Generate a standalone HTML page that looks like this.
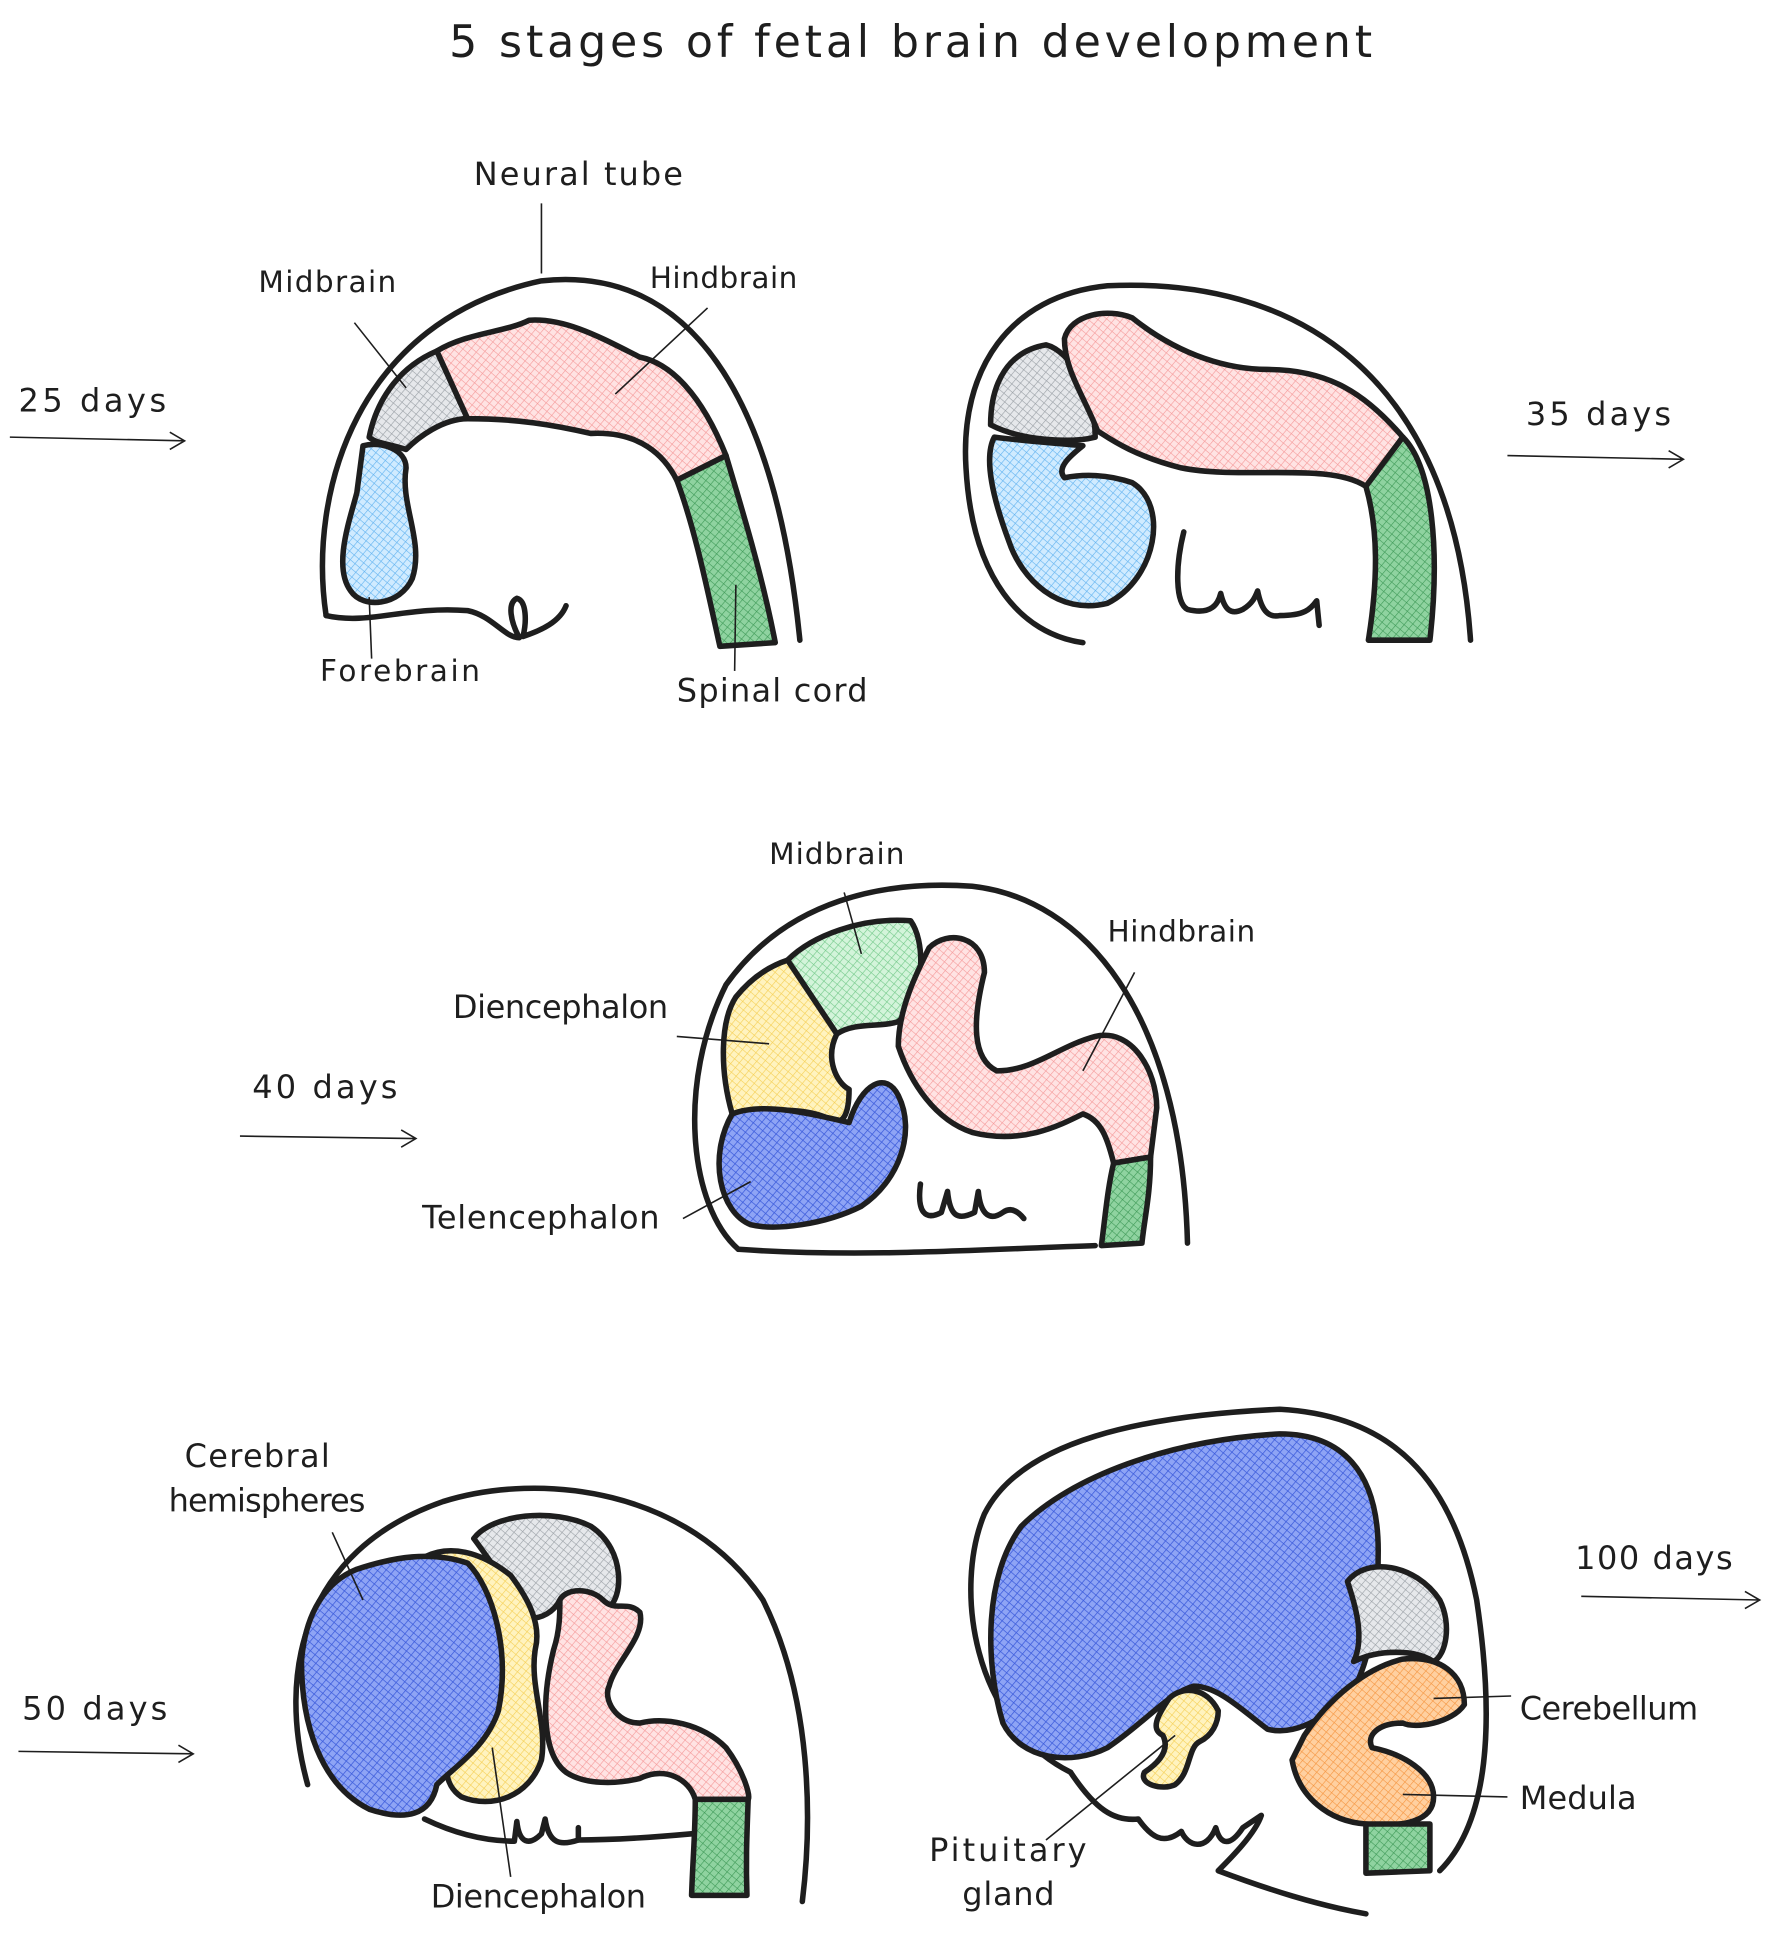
<!DOCTYPE html>
<html><head><meta charset="utf-8"><style>
html,body{margin:0;padding:0;background:#fff}
svg{display:block}
text{font-family:"DejaVu Sans","Liberation Sans",sans-serif;fill:#1e1e1e}
.o{fill:none;stroke:#1e1e1e;stroke-width:4.5;stroke-linecap:round;stroke-linejoin:round}
.s{stroke:#1e1e1e;stroke-width:4.5;stroke-linejoin:round}
.l{fill:none;stroke:#1e1e1e;stroke-width:1.3}
</style></head><body>
<svg width="1772" height="1935" viewBox="0 0 1440 1572" xmlns="http://www.w3.org/2000/svg">
<defs>
<pattern id="pk" width="5" height="5" patternUnits="userSpaceOnUse" patternTransform="rotate(40)"><rect width="5" height="5" fill="#ffe3e3"/><path d="M0 0H5M0 0V5" stroke="#f59a9a" stroke-width="1"/></pattern>
<pattern id="gy" width="5" height="5" patternUnits="userSpaceOnUse" patternTransform="rotate(40)"><rect width="5" height="5" fill="#e6e8eb"/><path d="M0 0H5M0 0V5" stroke="#9aa0a6" stroke-width="1"/></pattern>
<pattern id="lb" width="5" height="5" patternUnits="userSpaceOnUse" patternTransform="rotate(40)"><rect width="5" height="5" fill="#d0ebff"/><path d="M0 0H5M0 0V5" stroke="#62b3f0" stroke-width="1"/></pattern>
<pattern id="gr" width="5" height="5" patternUnits="userSpaceOnUse" patternTransform="rotate(40)"><rect width="5" height="5" fill="#8fd3a0"/><path d="M0 0H5M0 0V5" stroke="#3f9a58" stroke-width="1"/></pattern>
<pattern id="lg" width="5" height="5" patternUnits="userSpaceOnUse" patternTransform="rotate(40)"><rect width="5" height="5" fill="#d3f4da"/><path d="M0 0H5M0 0V5" stroke="#74c98a" stroke-width="1"/></pattern>
<pattern id="yl" width="5" height="5" patternUnits="userSpaceOnUse" patternTransform="rotate(40)"><rect width="5" height="5" fill="#fff3bf"/><path d="M0 0H5M0 0V5" stroke="#f5cf55" stroke-width="1"/></pattern>
<pattern id="bl" width="5" height="5" patternUnits="userSpaceOnUse" patternTransform="rotate(40)"><rect width="5" height="5" fill="#8ea4f5"/><path d="M0 0H5M0 0V5" stroke="#3b5bdb" stroke-width="1.2"/></pattern>
<pattern id="or" width="5" height="5" patternUnits="userSpaceOnUse" patternTransform="rotate(40)"><rect width="5" height="5" fill="#ffd0a0"/><path d="M0 0H5M0 0V5" stroke="#f59540" stroke-width="1"/></pattern>
</defs>

<text x="740" y="46" font-size="36" text-anchor="middle" textLength="750">5 stages of fetal brain development</text>

<!-- Stage 1 -->
<g>
<path class="o" d="M265,500 C250,400 290,260 440,228 C560,215 630,320 650,520"/>
<path class="o" d="M265,500 C300,508 330,492 380,496 C400,500 410,518 422,518 C415,505 412,490 420,486 C428,488 428,505 425,517 C440,512 455,505 460,492"/>
<path class="s" fill="url(#lb)" d="M295,362 C310,358 330,365 330,380 C325,410 345,440 335,470 C325,492 295,495 285,480 C270,460 285,420 290,400 Z"/>
<path class="s" fill="url(#gy)" d="M300,355 C305,330 320,300 355,285 L380,340 C360,340 340,355 330,365 C315,360 305,360 300,355 Z"/>
<path class="s" fill="url(#pk)" d="M355,285 C380,270 410,270 430,260 C460,258 490,275 520,290 C545,295 570,320 590,370 L550,390 C540,370 520,350 480,352 C450,345 420,340 380,340 Z"/>
<path class="s" fill="url(#gr)" d="M550,390 L590,370 C605,420 620,470 630,522 L585,525 C575,480 565,430 550,390 Z"/>
<path class="l" d="M440,165 L440,222 M288,262 L330,315 M575,250 L500,320 M300,485 L302,535 M598,475 L597,545"/>
<text x="385" y="150" font-size="26" textLength="170">Neural tube</text>
<text x="210" y="237" font-size="24" textLength="112">Midbrain</text>
<text x="528" y="234" font-size="24" textLength="120">Hindbrain</text>
<text x="260" y="553" font-size="24" textLength="130">Forebrain</text>
<text x="550" y="570" font-size="26" textLength="155">Spinal cord</text>
<text x="15" y="334" font-size="26" textLength="120">25 days</text>
<path class="l" d="M8,355 L150,358 M138,351 L150,358 L138,365" stroke-width="1.6"/>
</g>

<!-- Stage 2 -->
<g>
<path class="o" d="M880,522 C830,515 790,470 785,380 C780,300 820,240 900,232 C1050,225 1180,300 1195,520"/>
<path class="o" d="M962,432 C955,460 955,490 965,495 C985,500 990,490 992,482 C995,495 1000,500 1010,495 C1018,490 1020,485 1022,480 C1025,495 1030,502 1040,500 C1060,500 1065,495 1070,488 L1072,508"/>
<path class="s" fill="url(#gy)" d="M805,345 C805,310 820,285 850,280 C870,285 890,320 890,355 C870,360 830,358 805,345 Z"/>
<path class="s" fill="url(#pk)" d="M865,275 C870,255 900,250 920,258 C960,290 1000,300 1030,300 C1080,300 1110,320 1140,355 L1110,395 C1080,375 1010,390 960,380 C920,370 900,355 892,350 C880,320 865,300 865,275 Z"/>
<path class="s" fill="url(#lb)" d="M808,355 C830,358 860,360 880,362 C870,370 858,380 865,388 C880,385 900,385 920,392 C950,410 940,470 900,490 C860,500 830,470 820,440 C805,400 800,370 808,355 Z"/>
<path class="s" fill="url(#gr)" d="M1110,395 L1140,355 C1165,380 1170,450 1162,520 L1112,520 C1120,470 1120,430 1110,395 Z"/>
<text x="1240" y="345" font-size="26" textLength="118">35 days</text>
<path class="l" d="M1225,370 L1368,373 M1356,366 L1368,373 L1356,380" stroke-width="1.6"/>
</g>

<!-- Stage 3 -->
<g>
<path class="o" d="M600,1015 C560,980 550,880 590,800 C640,730 720,715 790,720 C880,730 960,820 965,1010"/>
<path class="o" d="M600,1015 C700,1022 800,1015 890,1012"/>
<path class="o" d="M748,962 C745,985 752,992 765,985 L770,968 C772,988 778,992 792,985 L795,968 C797,988 805,992 815,985 C822,980 828,985 832,990"/>
<path class="s" fill="url(#lg)" d="M640,780 C660,760 700,745 740,748 C752,765 750,800 740,820 L730,830 C715,835 695,830 680,840 Z"/>
<path class="s" fill="url(#yl)" d="M640,780 L680,840 C670,860 680,880 690,885 C690,905 685,915 675,910 C660,900 620,900 595,905 C585,870 585,830 598,810 C610,795 625,785 640,780 Z"/>
<path class="s" fill="url(#pk)" d="M755,770 C770,755 800,760 800,790 C790,830 790,860 810,870 C840,870 860,850 890,842 C920,835 940,870 940,900 L935,940 L905,945 C900,925 895,910 880,905 C860,915 830,930 790,920 C760,910 740,880 730,850 C730,820 745,790 755,770 Z"/>
<path class="s" fill="url(#bl)" d="M595,905 C620,895 660,905 690,912 C700,880 720,870 730,890 C745,920 730,960 700,980 C670,995 630,1000 610,995 C585,985 575,940 595,905 Z"/>
<path class="s" fill="url(#gr)" d="M905,945 L935,940 C935,970 930,990 928,1010 L895,1012 C898,990 900,965 905,945 Z"/>
<path class="l" d="M686,725 L700,775 M922,790 L880,870 M550,842 L625,848 M555,990 L610,960"/>
<text x="625" y="702" font-size="24" textLength="110">Midbrain</text>
<text x="900" y="765" font-size="24" textLength="120">Hindbrain</text>
<text x="368" y="827" font-size="26" textLength="175">Diencephalon</text>
<text x="343" y="998" font-size="26" textLength="193">Telencephalon</text>
<text x="205" y="892" font-size="26" textLength="118">40 days</text>
<path class="l" d="M195,923 L338,925 M326,918 L338,925 L326,932" stroke-width="1.6"/>
</g>

<!-- Stage 4 -->
<g>
<path class="o" d="M250,1450 C225,1360 245,1260 360,1220 C440,1195 560,1210 620,1300 C660,1380 660,1480 652,1545"/>
<path class="o" d="M345,1478 C370,1490 395,1496 418,1496 L420,1480 C422,1498 430,1500 440,1490 L443,1478 C446,1498 455,1500 470,1495 L470,1485"/>
<path class="o" d="M470,1495 C500,1495 540,1492 562,1490"/>
<path class="s" fill="url(#gy)" d="M385,1250 C400,1230 450,1225 480,1240 C510,1260 505,1300 495,1305 C480,1290 460,1290 455,1300 C450,1310 440,1315 430,1315 C420,1300 400,1270 385,1250 Z"/>
<path class="s" fill="url(#yl)" d="M345,1265 C365,1255 390,1260 415,1280 C430,1300 440,1320 435,1340 C430,1370 445,1400 440,1430 C430,1460 400,1470 375,1460 C360,1450 360,1430 370,1420 C400,1400 410,1340 395,1300 C385,1285 365,1270 345,1265 Z"/>
<path class="s" fill="url(#bl)" d="M290,1275 C320,1265 350,1260 380,1270 C400,1290 415,1340 405,1390 C395,1420 370,1435 355,1450 C350,1475 330,1480 300,1470 C260,1450 245,1400 245,1350 C248,1310 265,1285 290,1275 Z"/>
<path class="s" fill="url(#pk)" d="M455,1300 C460,1290 480,1290 490,1300 C500,1310 510,1300 520,1310 C525,1330 500,1350 495,1370 C490,1380 500,1400 520,1400 C540,1395 570,1400 590,1420 C605,1440 610,1460 608,1462 L565,1462 C560,1445 540,1435 520,1445 C500,1450 475,1450 460,1440 C440,1425 440,1380 450,1340 C455,1325 455,1310 455,1300 Z"/>
<path class="s" fill="url(#gr)" d="M565,1462 L608,1462 C607,1490 606,1510 607,1540 L562,1540 C563,1510 565,1490 565,1462 Z"/>
<path class="l" d="M270,1245 L295,1300 M400,1420 L415,1525"/>
<text x="150" y="1192" font-size="26" textLength="118">Cerebral</text>
<text x="137" y="1228" font-size="26" textLength="160">hemispheres</text>
<text x="350" y="1550" font-size="26" textLength="175">Diencephalon</text>
<text x="18" y="1397" font-size="26" textLength="118">50 days</text>
<path class="l" d="M15,1423 L157,1425 M145,1418 L157,1425 L145,1432" stroke-width="1.6"/>
</g>

<!-- Stage 5 -->
<g>
<path class="o" d="M870,1440 C790,1400 775,1290 800,1230 C830,1170 930,1150 1040,1145 C1130,1150 1180,1200 1200,1300 C1215,1400 1210,1480 1170,1520"/>
<path class="o" d="M870,1440 C890,1470 905,1480 925,1478 C935,1492 945,1500 960,1488 C965,1500 980,1505 988,1485 C992,1500 1000,1500 1010,1485 L1025,1475 C1020,1490 1000,1510 990,1520 C1030,1535 1070,1548 1110,1555"/>
<path class="s" fill="url(#bl)" d="M830,1240 C870,1200 950,1170 1040,1165 C1090,1165 1120,1195 1120,1260 C1120,1320 1110,1360 1095,1380 C1070,1400 1050,1410 1030,1405 C1010,1390 990,1370 970,1370 C950,1375 930,1400 900,1420 C870,1435 830,1430 815,1400 C800,1350 800,1280 830,1240 Z"/>
<path class="s" fill="url(#gy)" d="M1095,1285 C1110,1265 1150,1270 1170,1300 C1180,1320 1175,1345 1165,1350 C1150,1340 1120,1340 1100,1350 C1110,1330 1100,1300 1095,1285 Z"/>
<path class="s" fill="url(#or)" d="M1060,1410 C1080,1380 1110,1355 1140,1348 C1170,1345 1190,1360 1190,1385 C1180,1400 1150,1405 1140,1400 C1120,1400 1110,1410 1115,1420 C1140,1425 1165,1440 1165,1460 C1165,1480 1140,1485 1110,1482 C1080,1480 1055,1460 1050,1430 Z"/>
<path class="s" fill="url(#gr)" d="M1110,1482 L1162,1482 L1162,1520 L1110,1522 Z"/>
<path class="s" fill="url(#yl)" d="M950,1380 C960,1370 980,1370 990,1390 C990,1400 985,1410 975,1415 C965,1420 968,1440 955,1450 C945,1455 925,1450 930,1440 C945,1430 950,1420 945,1410 C935,1405 940,1395 950,1380 Z"/>
<path class="l" d="M1165,1380 L1228,1378 M1140,1458 L1225,1460 M850,1495 L955,1410"/>
<text x="1235" y="1397" font-size="26" textLength="145">Cerebellum</text>
<text x="1235" y="1470" font-size="26" textLength="95">Medula</text>
<text x="755" y="1512" font-size="26" textLength="128">Pituitary</text>
<text x="782" y="1548" font-size="26" textLength="75">gland</text>
<text x="1280" y="1275" font-size="26" textLength="128">100 days</text>
<path class="l" d="M1285,1297 L1430,1300 M1418,1293 L1430,1300 L1418,1307" stroke-width="1.6"/>
</g>
</svg>
</body></html>
